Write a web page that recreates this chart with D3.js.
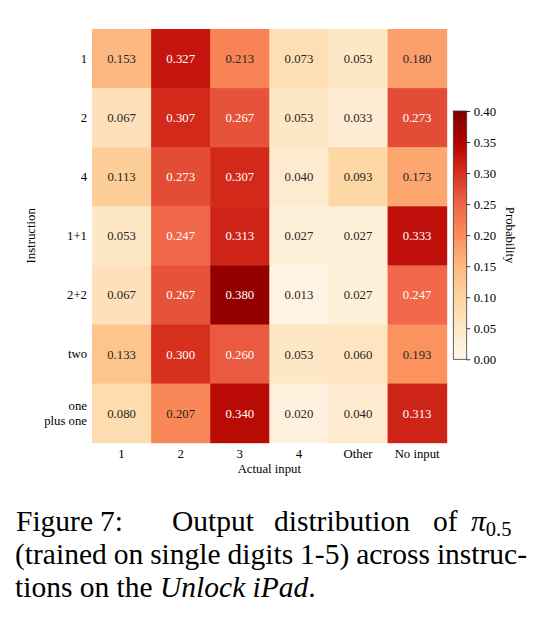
<!DOCTYPE html>
<html>
<head>
<meta charset="utf-8">
<script src="https://d3js.org/d3.v7.min.js"></script>
<style>
  body { margin: 0; background: #fff; }
  svg text { font-family: "Liberation Serif", "Times New Roman", serif; }
</style>
</head>
<body>
<div id="chart"></div>
<script>
// rows (instructions) and columns (actual input)
var instructions = ["1", "2", "4", "1+1", "2+2", "two", "one|plus one"];
var inputs = ["1", "2", "3", "4", "Other", "No input"];

// probability per instruction row, one value per input column
var row1 = [0.153, 0.327, 0.213, 0.073, 0.053, 0.180];
var row2 = [0.067, 0.307, 0.267, 0.053, 0.033, 0.273];
var row4 = [0.113, 0.273, 0.307, 0.040, 0.093, 0.173];
var row1p1 = [0.053, 0.247, 0.313, 0.027, 0.027, 0.333];
var row2p2 = [0.067, 0.267, 0.380, 0.013, 0.027, 0.247];
var rowTwo = [0.133, 0.300, 0.260, 0.053, 0.060, 0.193];
var rowOnePlusOne = [0.080, 0.207, 0.340, 0.020, 0.040, 0.313];
var matrix = [row1, row2, row4, row1p1, row2p2, rowTwo, rowOnePlusOne];

var cbTicks = [0, 0.05, 0.10, 0.15, 0.20, 0.25, 0.30, 0.35, 0.40];

var W = 547, H = 619;
// heatmap box (named so they don't clash with window.top)
var hmLeft = 92, hmTop = 29, hmRight = 446.7, hmBottom = 442.7;

var svg = d3.select("#chart").append("svg")
    .attr("width", W).attr("height", H);

var x = d3.scaleBand().domain(inputs).range([hmLeft, hmRight]);
var y = d3.scaleBand().domain(instructions).range([hmTop, hmBottom]);

// OrRd, piecewise linear like matplotlib
var orrd = ["#fff7ec", "#fee8c8", "#fdd49e", "#fdbb84", "#fc8d59", "#ef6548", "#d7301f", "#b30000", "#7f0000"];
var color = d3.scaleLinear()
    .domain(d3.range(9).map(function(i) { return i * 0.4 / 8; }))
    .range(orrd)
    .interpolate(d3.interpolateRgb)
    .clamp(true);

var cells = [];
matrix.forEach(function(r, i) {
    r.forEach(function(v, j) {
        cells.push({ row: instructions[i], col: inputs[j], v: v });
    });
});

svg.selectAll("rect.cell").data(cells).enter().append("rect")
    .attr("class", "cell")
    .attr("x", function(d) { return x(d.col); })
    .attr("y", function(d) { return y(d.row); })
    .attr("width", x.bandwidth() + 0.5)
    .attr("height", y.bandwidth() + 0.5)
    .attr("fill", function(d) { return color(d.v); });

svg.selectAll("text.val").data(cells).enter().append("text")
    .attr("class", "val")
    .attr("x", function(d) { return x(d.col) + x.bandwidth() / 2; })
    .attr("y", function(d) { return y(d.row) + y.bandwidth() / 2; })
    .attr("dy", "0.35em")
    .attr("text-anchor", "middle")
    .style("font-size", "12.75px")
    .attr("fill", function(d) { return d.v > 0.23 ? "#ffffff" : "#262626"; })
    .text(function(d) { return d.v.toFixed(3); });

// x axis
var xAxis = svg.append("g")
    .attr("transform", "translate(0," + hmBottom + ")")
    .call(d3.axisBottom(x).tickSize(0).tickPadding(6));
xAxis.select(".domain").remove();
xAxis.selectAll("text")
    .style("font-family", "Liberation Serif, serif")
    .style("font-size", "12.75px")
    .attr("fill", "#000");

// y axis
var yAxis = svg.append("g")
    .attr("transform", "translate(" + hmLeft + ",0)")
    .call(d3.axisLeft(y).tickSize(0).tickPadding(5));
yAxis.select(".domain").remove();
yAxis.selectAll("text")
    .style("font-family", "Liberation Serif, serif")
    .style("font-size", "12.75px")
    .attr("fill", "#000")
    .each(function(d) {
        var parts = d.split("|");
        if (parts.length > 1) {
            var t = d3.select(this).text(null).attr("dy", null);
            parts.forEach(function(p, k) {
                t.append("tspan").attr("x", -5)
                    .attr("y", (k - 0.5) * 15)
                    .attr("dy", "0.32em")
                    .text(p);
            });
        }
    });

svg.append("text")
    .attr("x", (hmLeft + hmRight) / 2)
    .attr("y", 473)
    .attr("text-anchor", "middle")
    .style("font-size", "12.75px")
    .text("Actual input");

svg.append("text")
    .attr("transform", "translate(35," + (hmTop + hmBottom) / 2 + ") rotate(-90)")
    .attr("text-anchor", "middle")
    .style("font-size", "12.75px")
    .text("Instruction");

// colorbar
var cbX = 453.3, cbW = 13.4, cbTop = 111, cbBot = 359.3;
var cbScale = d3.scaleLinear().domain([0, 0.4]).range([cbBot, cbTop]);

var grad = svg.append("defs").append("linearGradient")
    .attr("id", "cbgrad")
    .attr("x1", 0).attr("y1", 1).attr("x2", 0).attr("y2", 0);
d3.range(0, 1.0001, 0.02).forEach(function(t) {
    grad.append("stop")
        .attr("offset", t)
        .attr("stop-color", color(t * 0.4));
});

svg.append("rect")
    .attr("x", cbX).attr("y", cbTop)
    .attr("width", cbW).attr("height", cbBot - cbTop)
    .attr("fill", "url(#cbgrad)")
    .attr("stroke", "#3a3a3a")
    .attr("stroke-width", 0.8);

var cbAxis = svg.append("g")
    .attr("transform", "translate(" + (cbX + cbW) + ",0)")
    .call(d3.axisRight(cbScale).tickValues(cbTicks).tickSize(3.5).tickPadding(3.5)
        .tickFormat(d3.format(".2f")));
cbAxis.select(".domain").remove();
cbAxis.selectAll("line").attr("stroke", "#000").attr("stroke-width", 0.8);
cbAxis.selectAll("text")
    .style("font-family", "Liberation Serif, serif")
    .style("font-size", "12.75px")
    .attr("fill", "#000");

svg.append("text")
    .attr("transform", "translate(506," + (cbTop + cbBot) / 2 + ") rotate(90)")
    .attr("text-anchor", "middle")
    .style("font-size", "12.75px")
    .text("Probability");

// caption
var cap = svg.append("g")
    .style("font-family", "Liberation Serif, serif")
    .style("font-size", "29.5px");

var line1 = [["Figure", 16], ["7:", 100], ["Output", 172], ["distribution", 274], ["of", 433]];
line1.forEach(function(w) {
    cap.append("text").attr("x", w[1]).attr("y", 531).text(w[0]);
});
var pi = cap.append("text").attr("x", 471).attr("y", 531);
pi.append("tspan").style("font-style", "italic").text("π");
pi.append("tspan").attr("dy", 5).style("font-size", "20.5px").text("0.5");

// justified second line
var words2 = ["(trained", "on", "single", "digits", "1-5)", "across", "instruc-"];
var ws = words2.map(function(w) {
    return cap.append("text").attr("y", 564).text(w);
});
var total = d3.sum(ws, function(t) { return t.node().getComputedTextLength(); });
var gap = (527 - 15 - total) / (words2.length - 1);
var cx = 15;
ws.forEach(function(t) {
    t.attr("x", cx);
    cx += t.node().getComputedTextLength() + gap;
});

var l3 = cap.append("text").attr("x", 15).attr("y", 597);
l3.append("tspan").text("tions on the ");
l3.append("tspan").style("font-style", "italic").text("Unlock iPad");
l3.append("tspan").text(".");
</script>
</body>
</html>
